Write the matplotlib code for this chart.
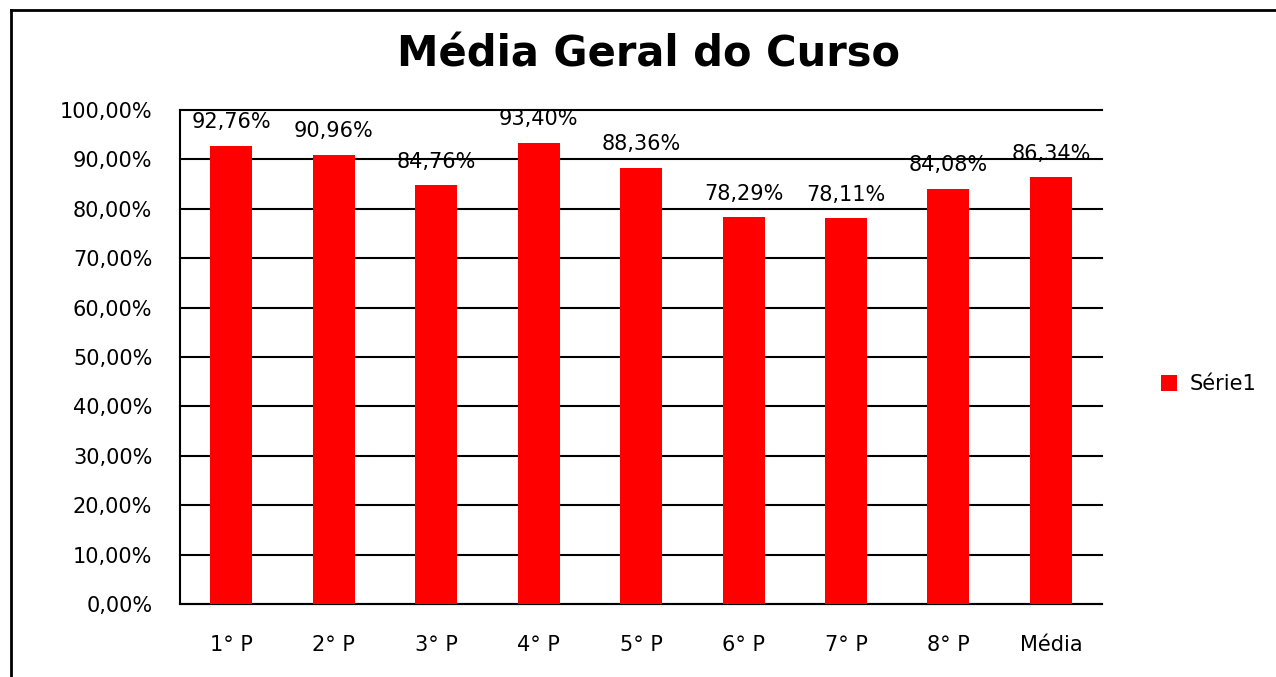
import matplotlib
matplotlib.use("Agg")
import matplotlib.pyplot as plt
from matplotlib.lines import Line2D
import numpy as np

categories = ["1° P", "2° P", "3° P", "4° P", "5° P", "6° P", "7° P", "8° P", "Média"]
values = [92.76, 90.96, 84.76, 93.40, 88.36, 78.29, 78.11, 84.08, 86.34]
yticks = [0, 10, 20, 30, 40, 50, 60, 70, 80, 90, 100]


def pct(v):
    return ("%.2f%%" % v).replace(".", ",")


plt.rcParams["font.family"] = "DejaVu Sans"

fig = plt.figure(figsize=(12.76, 6.77), dpi=100)
ax = fig.add_axes([0.1411, 0.1078, 0.7226, 0.7297])

x = np.arange(len(categories))
bars = ax.bar(x, values, width=0.41, color="#ff0000", label="Série1", zorder=3)

for xi, v in zip(x, values):
    ax.annotate(pct(v), (xi, v), xytext=(0, 17), textcoords="offset points",
                ha="center", va="center", fontsize=15, color="black", zorder=4)

ax.set_xlim(-0.5, len(categories) - 0.5)
ax.set_ylim(0, 100)
ax.set_yticks(yticks)
ax.set_yticklabels([pct(t) for t in yticks], fontsize=15)
ax.set_xticks(x)
ax.set_xticklabels(categories, fontsize=15)
ax.tick_params(axis="y", length=0, pad=20)
ax.tick_params(axis="x", length=0, pad=22)

ax.yaxis.grid(True, color="black", linewidth=1.5, zorder=0)
for gl in ax.yaxis.get_gridlines():
    gl.set_clip_on(False)
ax.set_axisbelow(True)
for s in ["top", "right"]:
    ax.spines[s].set_visible(False)
ax.spines["left"].set_linewidth(1.5)
ax.spines["bottom"].set_linewidth(1.5)

fig.text(0.508, 0.92, "Média Geral do Curso", ha="center", va="center",
         fontsize=30, fontweight="bold")

fig.legend(handles=[bars], labels=["Série1"], loc="center left",
           bbox_to_anchor=(0.895, 0.433), frameon=False, fontsize=15,
           handlelength=0.8, handleheight=0.8, handletextpad=0.6)

# outer chart border (cut off on right and bottom)
fig.add_artist(Line2D([10.5 / 1276, 1.0], [1 - 9.5 / 677, 1 - 9.5 / 677],
                      transform=fig.transFigure, color="black", linewidth=2))
fig.add_artist(Line2D([10.5 / 1276, 10.5 / 1276], [0.0, 1 - 9.5 / 677],
                      transform=fig.transFigure, color="black", linewidth=2))

fig.savefig("out.png", dpi=100)
